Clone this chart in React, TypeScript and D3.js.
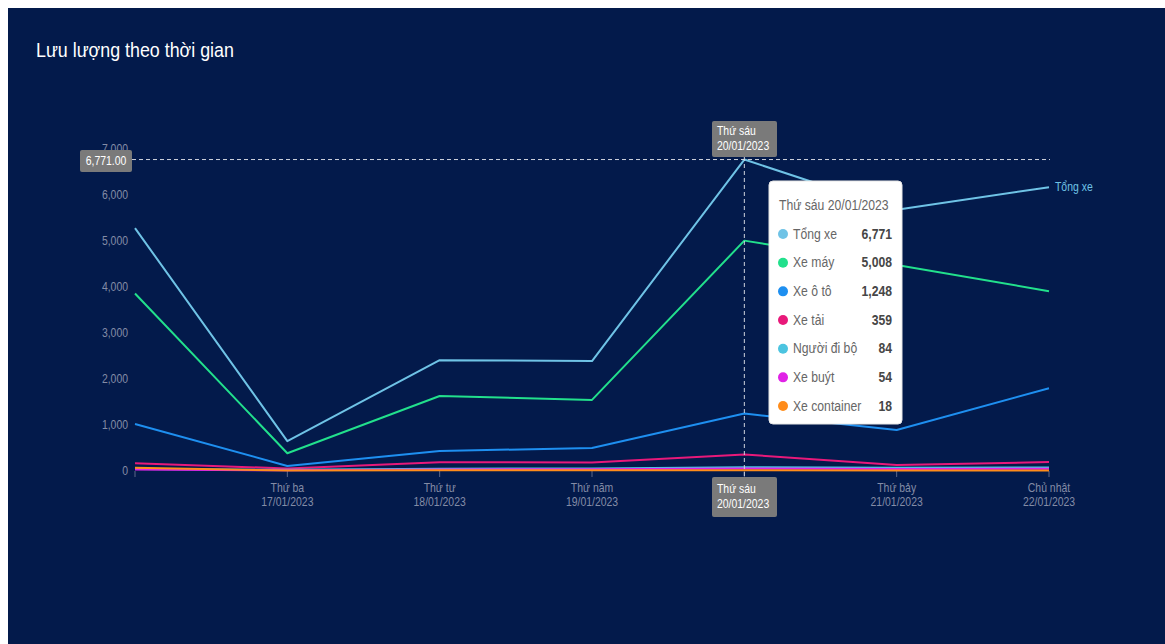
import React from "react";
import * as d3 from "d3";

const dates = ["16/01/2023", "17/01/2023", "18/01/2023", "19/01/2023", "20/01/2023", "21/01/2023", "22/01/2023"];
const dayNames = ["Thứ hai", "Thứ ba", "Thứ tư", "Thứ năm", "Thứ sáu", "Thứ bảy", "Chủ nhật"];
const yTicks = [0, 1000, 2000, 3000, 4000, 5000, 6000, 7000];

const tongXe = [5280, 650, 2410, 2390, 6771, 5680, 6170];
const xeMay = [3860, 385, 1630, 1545, 5008, 4480, 3910];
const xeOto = [1020, 110, 435, 500, 1248, 890, 1800];
const xeTai = [170, 55, 190, 185, 359, 130, 195];
const nguoiDiBo = [45, 25, 50, 55, 84, 70, 75];
const xeBuyt = [30, 15, 35, 40, 54, 45, 50];
const xeContainer = [70, 10, 15, 15, 18, 12, 10];

const seriesNames = ["Tổng xe", "Xe máy", "Xe ô tô", "Xe tải", "Người đi bộ", "Xe buýt", "Xe container"];
const seriesValues = [tongXe, xeMay, xeOto, xeTai, nguoiDiBo, xeBuyt, xeContainer];
const seriesColors = ["#6fc3e6", "#22e08c", "#1e8ff0", "#e8197a", "#4cc4e0", "#e022e6", "#ff8c1a"];

const focusIndex = 4;
const FONT = "'Liberation Sans', Arial, Helvetica, sans-serif";
const SX = 0.87;

const T = ({ x, y, children, anchor = "start", size = 12, fill = "#fff", weight = "normal" }: any) => (
  <text
    transform={`translate(${x},${y}) scale(${SX},1)`}
    textAnchor={anchor}
    fontSize={size}
    fill={fill}
    fontWeight={weight}
    dominantBaseline="central"
    fontFamily={FONT}
  >
    {children}
  </text>
);

export default function App() {
  const W = 1165;
  const H = 644;
  const x = d3.scalePoint<string>().domain(dates).range([135, 1049]);
  const y = d3.scaleLinear().domain([0, 7000]).range([471, 149]);
  const line = d3
    .line<number>()
    .x((_, i) => x(dates[i]) as number)
    .y((d) => y(d));
  const fmt = d3.format(",");
  const fx = x(dates[focusIndex]) as number;
  const fy = y(tongXe[focusIndex]);
  const labelColor = "#838ca6";

  const tipX = 769, tipY = 181, tipW = 133, tipH = 243;
  const rowY0 = 234, rowStep = 28.67;

  return (
    <svg width={W} height={H} style={{ position: "absolute", left: 0, top: 0 }}>
      <rect x={8} y={8} width={W - 8} height={H - 8} fill="#031a4b" />
      <T x={36} y={50} size={20.5} fill="#ffffff">Lưu lượng theo thời gian</T>

      {yTicks.map((t) => (
        <T key={t} x={128} y={y(t)} anchor="end" fill={labelColor}>{fmt(t)}</T>
      ))}

      {dates.map((d) => (
        <line key={d} x1={x(d)} x2={x(d)} y1={471} y2={477} stroke="#5c6788" strokeWidth={1} />
      ))}
      {dates.map((d, i) =>
        i === 0 || i === focusIndex ? null : (
          <g key={"l" + d}>
            <T x={x(d)} y={488} anchor="middle" fill={labelColor}>{dayNames[i]}</T>
            <T x={x(d)} y={502} anchor="middle" fill={labelColor}>{d}</T>
          </g>
        )
      )}

      {seriesValues.map((vals, si) => (
        <path key={si} d={line(vals) || ""} fill="none" stroke={seriesColors[si]} strokeWidth={2} strokeLinejoin="round" />
      ))}

      <T x={1055} y={y(tongXe[6])} fill={seriesColors[0]}>{seriesNames[0]}</T>

      {/* crosshair */}
      <line x1={132} x2={1050} y1={fy} y2={fy} stroke="#d0d4de" strokeDasharray="4 3" strokeWidth={1} />
      <line x1={fx} x2={fx} y1={157} y2={477} stroke="#d0d4de" strokeDasharray="4 3" strokeWidth={1} />

      <rect x={80} y={150} width={52} height={22} rx={2} fill="#7a7a7a" />
      <T x={106} y={161} anchor="middle" fill="#ffffff">{d3.format(",.2f")(tongXe[focusIndex])}</T>

      <rect x={712} y={121} width={65} height={36} rx={2} fill="#7a7a7a" />
      <T x={717} y={131} fill="#ffffff">{dayNames[focusIndex]}</T>
      <T x={717} y={146} fill="#ffffff">{dates[focusIndex]}</T>

      <rect x={712} y={477} width={65} height={40} rx={2} fill="#7a7a7a" />
      <T x={717} y={489} fill="#ffffff">{dayNames[focusIndex]}</T>
      <T x={717} y={504} fill="#ffffff">{dates[focusIndex]}</T>

      {/* tooltip */}
      <rect x={tipX} y={tipY} width={tipW} height={tipH} rx={4} fill="#ffffff" stroke="#e6e6e6" />
      <T x={779} y={205} size={14} fill="#666666">{dayNames[focusIndex] + " " + dates[focusIndex]}</T>
      {seriesNames.map((n, si) => (
        <g key={n}>
          <circle cx={783} cy={rowY0 + si * rowStep} r={5} fill={seriesColors[si]} />
          <T x={793} y={rowY0 + si * rowStep} size={14} fill="#666666">{n}</T>
          <T x={892} y={rowY0 + si * rowStep} size={14} anchor="end" fill="#464646" weight="bold">
            {fmt(seriesValues[si][focusIndex])}
          </T>
        </g>
      ))}
    </svg>
  );
}
